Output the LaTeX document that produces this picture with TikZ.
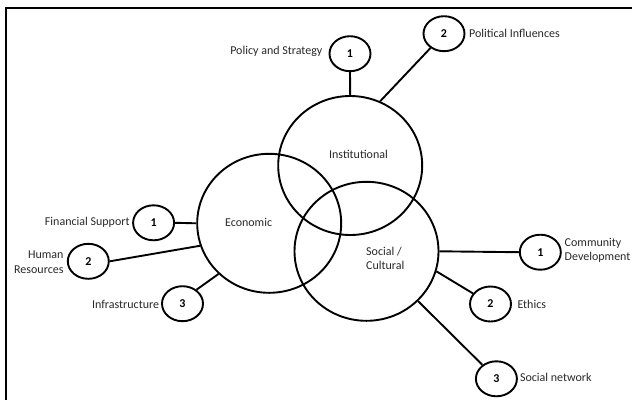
\documentclass[tikz,border=0pt]{standalone}
\usepackage{fontspec}
\setmainfont{Carlito}
\usetikzlibrary{shapes.geometric}
\definecolor{ink}{RGB}{0,0,0}
\definecolor{txt}{RGB}{40,40,40}
\begin{document}
\begin{tikzpicture}[x=1pt,y=-1pt,
  sphere/.style={ellipse, draw=ink, line width=1.9pt, minimum width=144pt, minimum height=139pt, inner sep=0pt},
  factor/.style={ellipse, draw=ink, line width=1.9pt, minimum width=41pt, minimum height=35pt, inner sep=0pt,
    text=ink, font=\bfseries\fontsize{12}{14}\selectfont},
  lbl/.style={inner sep=0pt, text=txt, font=\fontsize{12}{14.3}\selectfont},
  link/.style={draw=ink, line width=1.9pt}
]
\useasboundingbox (0,0) rectangle (632,400);

% frame edges
\draw[ink, line width=1.9pt] (5.6,400) -- (5.6,8.3) -- (632,8.3);

% the three overlapping spheres
\node[sphere] (inst) at (350.2,165.5) {};
\node[sphere] (eco)  at (269.2,223.3) {};
\node[sphere] (soc)  at (366.5,251.3) {};

\node[lbl] (tinst) at (358.5,154) {Institutional};
\node[lbl] (teco)  at (248.6,222.7) {Economic};
\node[lbl, align=left, anchor=west] (tsoc) at (366,258.7) {Social /\\Cultural};

% numbered factors
\node[factor] (pol)  at (350,53.7)  {1};
\node[factor] (infl) at (444,33.7)  {2};
\node[factor] (fin)  at (153.6,222.8) {1};
\node[factor] (hum)  at (88.3,261.3) {2};
\node[factor] (inf)  at (182.5,303.7) {3};
\node[factor] (com)  at (540.3,252.2) {1};
\node[factor] (eth)  at (490.5,304)  {2};
\node[factor] (snet) at (496.4,378.8) {3};

% factor captions
\node[lbl, anchor=east] (tpol)  at (322.6,51.7) {Policy and Strategy};
\node[lbl, anchor=west] (tinfl) at (469,33.3) {Political Influences};
\node[lbl, anchor=east] (tfin)  at (129.8,222.7) {Financial Support};
\node[lbl, anchor=east, align=right] (thum) at (63.7,262.2) {Human\\Resources};
\node[lbl, anchor=east] (tinf)  at (159.3,304) {Infrastructure};
\node[lbl, anchor=west, align=left] (tcom) at (564.5,250.5) {Community\\Development};
\node[lbl, anchor=west] (teth)  at (517.3,304.3) {Ethics};
\node[lbl, anchor=west] (tsnet) at (519.8,377.7) {Social network};

% connectors
\draw[link] (pol.south) -- (inst.north);
\draw[link] (inst.65) -- (infl);
\draw[link] (fin.east) -- (eco.west);
\draw[link] (hum.east) -- (eco.198);
\draw[link] (inf.45) -- (eco.225);
\draw[link] (soc.east) -- (com.west);
\draw[link] (soc.-16) -- (eth);
\draw[link] (soc.-44) -- (snet);
\end{tikzpicture}
\end{document}
